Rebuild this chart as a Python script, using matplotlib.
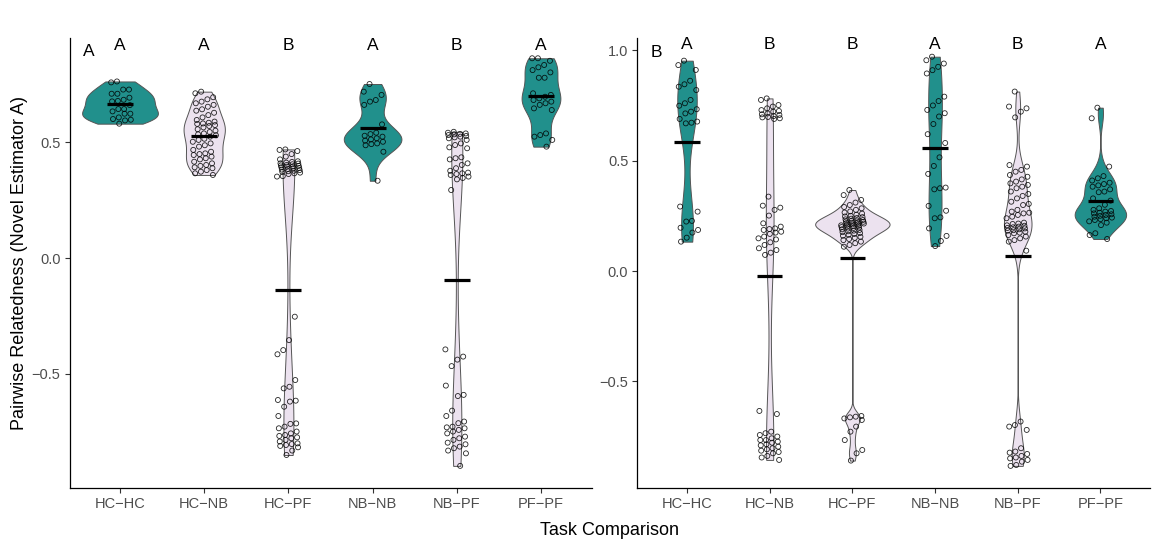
import numpy as np
import matplotlib
matplotlib.use("Agg")
import matplotlib.pyplot as plt

plt.rcParams['font.family'] = ['Liberation Sans', 'DejaVu Sans']

categories = ["HC−HC", "HC−NB", "HC−PF", "NB−NB", "NB−PF", "PF−PF"]
same_task = [True, False, False, True, False, True]
letters_a = ["A", "A", "B", "A", "B", "A"]
letters_b = ["A", "B", "B", "A", "B", "A"]

# ---------------- Panel A ----------------
a_hc_hc = [0.761, 0.757, 0.726, 0.726, 0.708, 0.708, 0.691, 0.682, 0.677, 0.675, 0.659,
           0.642, 0.642, 0.632, 0.622, 0.622, 0.606, 0.599, 0.596, 0.593, 0.579]
a_hc_nb = [0.717, 0.710, 0.693, 0.684, 0.674, 0.667, 0.660, 0.652, 0.641, 0.635, 0.626,
           0.616, 0.606, 0.595, 0.588, 0.583, 0.580, 0.578, 0.573, 0.569, 0.563, 0.555,
           0.549, 0.543, 0.537, 0.533, 0.529, 0.523, 0.514, 0.509, 0.501, 0.494, 0.486,
           0.480, 0.466, 0.458, 0.451, 0.448, 0.444, 0.437, 0.430, 0.425, 0.415, 0.408,
           0.401, 0.397, 0.391, 0.387, 0.379, 0.372, 0.365, 0.358]
a_hc_pf = [0.468, 0.466, 0.461, 0.448, 0.437, 0.425, 0.417, 0.414, 0.411, 0.408, 0.407,
           0.404, 0.401, 0.399, 0.397, 0.395, 0.394, 0.391, 0.388, 0.387, 0.384, 0.381,
           0.379, 0.376, 0.374, 0.371, 0.368, 0.365, 0.362, 0.353, 0.351,
           -0.253, -0.354, -0.397, -0.415, -0.526, -0.555, -0.562, -0.612, -0.615, -0.619,
           -0.641, -0.681, -0.713, -0.715, -0.727, -0.734, -0.748, -0.756, -0.763, -0.767,
           -0.773, -0.777, -0.784, -0.791, -0.799, -0.802, -0.806, -0.810, -0.816, -0.830,
           -0.849]
a_nb_nb = [0.750, 0.717, 0.703, 0.681, 0.674, 0.660, 0.576, 0.540, 0.534, 0.527, 0.523,
           0.516, 0.511, 0.506, 0.501, 0.494, 0.491, 0.486, 0.458, 0.333]
a_nb_pf = [0.544, 0.540, 0.537, 0.535, 0.533, 0.530, 0.526, 0.523, 0.520, 0.516, 0.509,
           0.494, 0.487, 0.477, 0.473, 0.434, 0.430, 0.425, 0.408, 0.401, 0.387, 0.376,
           0.368, 0.365, 0.362, 0.358, 0.351, 0.345, 0.339, 0.293,
           -0.394, -0.425, -0.438, -0.466, -0.550, -0.590, -0.595, -0.658, -0.681, -0.705,
           -0.712, -0.727, -0.730, -0.734, -0.741, -0.748, -0.756, -0.770, -0.777, -0.784,
           -0.796, -0.803, -0.813, -0.820, -0.830, -0.842, -0.896]
a_pf_pf = [0.861, 0.861, 0.850, 0.832, 0.822, 0.810, 0.800, 0.777, 0.777, 0.710, 0.703,
           0.695, 0.688, 0.681, 0.674, 0.667, 0.660, 0.645, 0.638, 0.537, 0.530, 0.523,
           0.509, 0.480]

# ---------------- Panel B ----------------
b_hc_hc = [0.953, 0.933, 0.911, 0.862, 0.846, 0.835, 0.820, 0.775, 0.760, 0.749, 0.733,
           0.722, 0.714, 0.689, 0.677, 0.672, 0.669,
           0.292, 0.269, 0.227, 0.224, 0.196, 0.186, 0.174, 0.151, 0.133]
b_hc_nb = [0.782, 0.775, 0.752, 0.745, 0.737, 0.729, 0.725, 0.722, 0.714, 0.710, 0.707,
           0.702, 0.698, 0.696, 0.692, 0.689,
           0.337, 0.296, 0.287, 0.277, 0.251, 0.216, 0.201, 0.193, 0.190, 0.186, 0.178,
           0.174, 0.168, 0.156, 0.148, 0.143, 0.130, 0.118, 0.103, 0.095, 0.083, 0.073,
           -0.634, -0.648, -0.728, -0.735, -0.743, -0.750, -0.758, -0.766, -0.766, -0.773,
           -0.778, -0.785, -0.790, -0.796, -0.803, -0.808, -0.814, -0.820, -0.826, -0.838,
           -0.845, -0.856]
b_hc_pf = [0.367, 0.344, 0.322, 0.310, 0.299, 0.290, 0.284, 0.277, 0.270, 0.265, 0.260,
           0.255, 0.250, 0.247, 0.244, 0.240, 0.237, 0.234, 0.231, 0.229, 0.227, 0.225,
           0.223, 0.221, 0.219, 0.217, 0.215, 0.213, 0.211, 0.209, 0.207, 0.205, 0.203,
           0.201, 0.199, 0.197, 0.195, 0.192, 0.189, 0.186, 0.183, 0.180, 0.176, 0.172,
           0.168, 0.164, 0.160, 0.155, 0.150, 0.145, 0.140, 0.133, 0.126, 0.118, 0.110,
           -0.657, -0.660, -0.663, -0.668, -0.675, -0.705, -0.728, -0.766, -0.811, -0.826,
           -0.859]
b_nb_nb = [0.971, 0.955, 0.940, 0.925, 0.910, 0.895, 0.790, 0.770, 0.750, 0.730, 0.715,
           0.700, 0.666, 0.620, 0.580, 0.515, 0.476, 0.440, 0.378, 0.375, 0.370, 0.295,
           0.273, 0.243, 0.239, 0.193, 0.159, 0.136, 0.113]
b_nb_pf = [0.813, 0.745, 0.737, 0.722, 0.696,
           0.480, 0.473, 0.458, 0.450, 0.435, 0.427, 0.415, 0.405, 0.397, 0.390, 0.382,
           0.375, 0.360, 0.349, 0.340, 0.329, 0.314, 0.304, 0.299, 0.277, 0.269, 0.264,
           0.261, 0.254, 0.246, 0.239, 0.219, 0.215, 0.213, 0.207, 0.205, 0.201, 0.198,
           0.195, 0.193, 0.189, 0.185, 0.183, 0.178, 0.174, 0.171, 0.163, 0.156, 0.148,
           0.140, 0.133, 0.092,
           -0.682, -0.698, -0.705, -0.720, -0.803, -0.818, -0.823, -0.829, -0.838, -0.845,
           -0.849, -0.856, -0.864, -0.879, -0.883]
b_pf_pf = [0.740, 0.692, 0.473, 0.430, 0.420, 0.410, 0.400, 0.394, 0.388, 0.382, 0.370,
           0.360, 0.357, 0.329, 0.319, 0.300, 0.284, 0.277, 0.272, 0.269, 0.264, 0.261,
           0.257, 0.254, 0.250, 0.246, 0.242, 0.239, 0.235, 0.231, 0.225, 0.219, 0.208,
           0.171, 0.163, 0.145]

panel_a = [a_hc_hc, a_hc_nb, a_hc_pf, a_nb_nb, a_nb_pf, a_pf_pf]
panel_b = [b_hc_hc, b_hc_nb, b_hc_pf, b_nb_nb, b_nb_pf, b_pf_pf]

TEAL = "#21908C"
LAV = "#ECE2EF"
EDGE = "#555555"


def kde(vals, grid):
    v = np.asarray(vals, dtype=float)
    n = len(v)
    sd = v.std(ddof=1)
    q75, q25 = np.percentile(v, [75, 25])
    lo = min(sd, (q75 - q25) / 1.34)
    if lo <= 0:
        lo = sd
    bw = 0.9 * lo * n ** -0.2
    z = (grid[:, None] - v[None, :]) / bw
    return np.exp(-0.5 * z ** 2).sum(axis=1) / (n * bw * np.sqrt(2 * np.pi))


def draw_panel(ax, groups, letters, label, ylim, yticks, yticklabels, ytext, label_y):
    grids, dens = [], []
    for vals in groups:
        g = np.linspace(min(vals), max(vals), 512)
        grids.append(g)
        dens.append(kde(vals, g))
    dmax = max(d.max() for d in dens)
    for i, vals in enumerate(groups):
        x = i + 1
        half = 0.45 * dens[i] / dmax
        ax.fill_betweenx(grids[i], x - half, x + half,
                         facecolor=TEAL if same_task[i] else LAV,
                         edgecolor=EDGE, linewidth=0.7, zorder=2)
        n = len(vals)
        offs = (((np.arange(n) * 0.7548776662 + 0.37) % 1.0) * 2 - 1) * 0.14
        ax.scatter(x + offs, vals, s=13, facecolors="none", edgecolors="black",
                   linewidths=0.6, alpha=0.85, zorder=3)
        m = np.mean(vals)
        ax.hlines(m, x - 0.155, x + 0.155, color="black", linewidth=2.3, zorder=4)
        ax.text(x, ytext, letters[i], ha="center", va="center", fontsize=12.5,
                color="black")
    ax.text(0.63, label_y, label, ha="center", va="center", fontsize=12.5, color="black")
    ax.set_xlim(0.4, 6.6)
    ax.set_ylim(*ylim)
    ax.set_xticks(range(1, 7))
    ax.set_xticklabels(categories)
    ax.set_yticks(yticks)
    ax.set_yticklabels(yticklabels)
    for s in ["top", "right"]:
        ax.spines[s].set_visible(False)
    for s in ["left", "bottom"]:
        ax.spines[s].set_color("black")
        ax.spines[s].set_linewidth(0.9)
    ax.tick_params(axis="both", length=3.5, width=0.8, color="#333333",
                   labelcolor="#4D4D4D", labelsize=10.5, pad=3)


fig = plt.figure(figsize=(11.53, 5.41), dpi=100)
axA = fig.add_axes([69.5 / 1153, 53 / 541, 522 / 1153, 450 / 541])
axB = fig.add_axes([637.4 / 1153, 53 / 541, 512.6 / 1153, 450 / 541])

draw_panel(axA, panel_a, letters_a, "A", (-0.9914, 0.9483),
           [-0.5, 0.0, 0.5], ["−0.5", "0.0", "0.5"], 0.918, 0.888)
draw_panel(axB, panel_b, letters_b, "B", (-0.9832, 1.0557),
           [-0.5, 0.0, 0.5, 1.0], ["−0.5", "0.0", "0.5", "1.0"], 1.024, 0.992)

fig.text(0.0165, 0.514, "Pairwise Relatedness (Novel Estimator A)", rotation=90,
         ha="center", va="center", fontsize=13)
fig.text(0.529, 0.0185, "Task Comparison", ha="center", va="center", fontsize=13)

fig.savefig("out.png", dpi=100)
